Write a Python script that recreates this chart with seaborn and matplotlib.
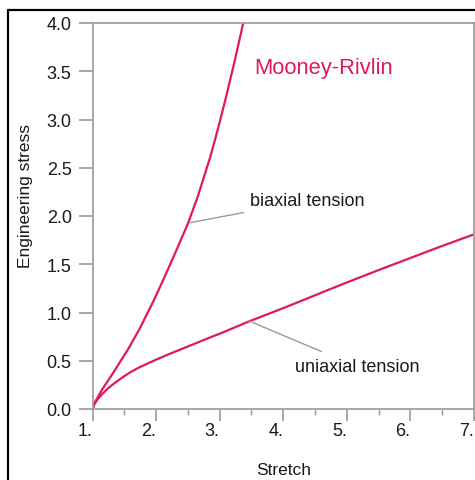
import matplotlib
matplotlib.use("Agg")
import matplotlib.pyplot as plt
import seaborn as sns
import pandas as pd
from matplotlib.lines import Line2D
from matplotlib.ticker import MultipleLocator

# values
uni_stretch = [1.0, 1.03, 1.08, 1.16, 1.246, 1.35, 1.455, 1.58, 1.716, 1.978, 2.19, 2.5,
               2.845, 3.0, 3.47, 4.0, 4.88, 5.5, 6.0, 6.5, 7.0]
uni_stress = [0.0, 0.05, 0.10, 0.16, 0.215, 0.27, 0.32, 0.375, 0.425, 0.505, 0.565, 0.648,
              0.74, 0.78, 0.91, 1.045, 1.28, 1.44, 1.565, 1.69, 1.81]
bi_stretch = [1.0, 1.03, 1.14, 1.35, 1.56, 1.74, 1.96, 2.1, 2.27, 2.5, 2.65, 2.856,
              2.98, 3.107, 3.23, 3.357, 3.45]
bi_stress = [0.0, 0.06, 0.19, 0.40, 0.62, 0.83, 1.12, 1.32, 1.57, 1.92, 2.19, 2.62,
             2.92, 3.25, 3.59, 3.96, 4.24]

x_ticks = [1, 2, 3, 4, 5, 6, 7]
x_ticklabels = ["1.", "2.", "3.", "4.", "5.", "6.", "7."]
y_ticks = [0.0, 0.5, 1.0, 1.5, 2.0, 2.5, 3.0, 3.5, 4.0]
y_ticklabels = ["0.0", "0.5", "1.0", "1.5", "2.0", "2.5", "3.0", "3.5", "4.0"]

title_text = "Mooney-Rivlin"
label_bi = "biaxial tension"
label_uni = "uniaxial tension"
x_label = "Stretch"
y_label = "Engineering stress"

sns.set_style("white")
plt.rcParams["font.family"] = ["Liberation Sans", "DejaVu Sans"]

df = pd.concat([
    pd.DataFrame({"stretch": uni_stretch, "stress": uni_stress, "mode": "uniaxial"}),
    pd.DataFrame({"stretch": bi_stretch, "stress": bi_stress, "mode": "biaxial"}),
])

RED = "#E2185C"
GRAY = "#9a9a9a"
TXT = "#1a1a1a"

fig = plt.figure(figsize=(4.75, 4.81), dpi=100)
ax = fig.add_axes([92.5 / 475, 71 / 481, (474 - 92.5) / 475, (410 - 24) / 481])

sns.lineplot(data=df, x="stretch", y="stress", units="mode", estimator=None,
             color=RED, linewidth=1.6, sort=False, ax=ax, legend=False)
for ln in ax.get_lines():
    ln.set_solid_joinstyle("round")

ax.set_xlim(1, 7)
ax.set_ylim(0, 4)
ax.set_xticks(x_ticks)
ax.set_xticklabels(x_ticklabels, ha="right")
ax.set_yticks(y_ticks)
ax.set_yticklabels(y_ticklabels)
ax.xaxis.set_minor_locator(MultipleLocator(0.5))

for s in ax.spines.values():
    s.set_color(GRAY)
    s.set_linewidth(1.2)

ax.tick_params(axis="x", which="major", direction="out", length=8.6, width=1.2,
               color=GRAY, labelsize=13, labelcolor=TXT, pad=1, bottom=True)
ax.tick_params(axis="x", which="minor", direction="out", length=4.3, width=1.0,
               color=GRAY, bottom=True)
ax.tick_params(axis="y", which="major", direction="out", length=10, width=1.2,
               color=GRAY, labelsize=13, labelcolor=TXT, pad=5, left=True)

ax.set_xlabel(x_label, fontsize=12.5, color=TXT)
ax.set_ylabel(y_label, fontsize=12.5, color=TXT)
ax.xaxis.set_label_coords(0.5, -0.137)
ax.yaxis.set_label_coords(-0.157, 0.554)

ax.text(0.423, 0.885, title_text, transform=ax.transAxes, color=RED,
        fontsize=15.8, ha="left", va="center")

# annotations with leader lines
ax.annotate(label_bi, xy=(2.53, 1.93), xytext=(3.47, 2.16),
            fontsize=13, color=TXT, ha="left", va="center",
            arrowprops=dict(arrowstyle="-", color=GRAY, lw=1.0, shrinkA=2, shrinkB=0))
ax.annotate(label_uni, xy=(3.47, 0.91), xytext=(4.18, 0.44),
            fontsize=13, color=TXT, ha="left", va="center",
            arrowprops=dict(arrowstyle="-", color=GRAY, lw=1.0, shrinkA=6, shrinkB=0))

# outer black frame (left and top edges)
fig.add_artist(Line2D([8.3 / 475, 8.3 / 475], [0, 1 - 11 / 481], transform=fig.transFigure,
                      color="black", linewidth=1.6))
fig.add_artist(Line2D([8.3 / 475, 1], [1 - 11 / 481, 1 - 11 / 481], transform=fig.transFigure,
                      color="black", linewidth=1.6))

fig.savefig("out.png", dpi=100)
